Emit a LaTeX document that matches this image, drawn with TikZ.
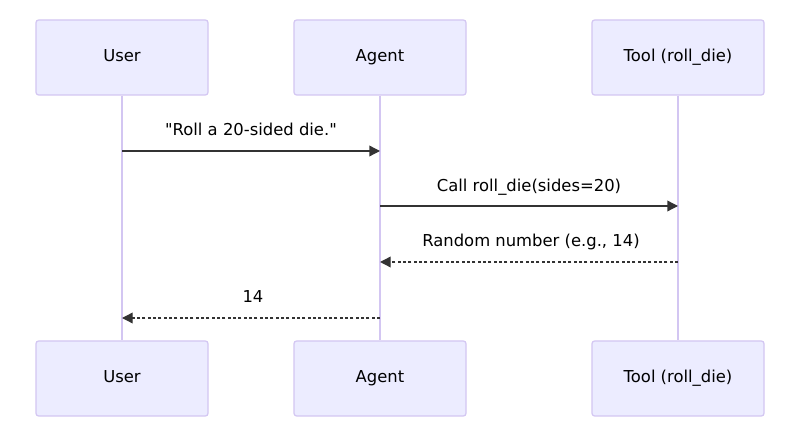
\documentclass[tikz,border=0pt]{standalone}
\usepackage{fontspec}
\setmainfont{DejaVu Sans}
\newfontfamily\qfont{DejaVu Sans}
\usetikzlibrary{arrows.meta}
\definecolor{actfill}{HTML}{ECECFF}
\definecolor{actline}{HTML}{D3C6F2}
\definecolor{msg}{HTML}{333333}
\tikzset{
  actor/.style={draw=actline, fill=actfill, line width=0.9pt, rounded corners=2pt, minimum width=129pt, minimum height=56.25pt, font=\fontsize{12.3}{14}\selectfont, inner sep=0pt, text height=9pt, text depth=2.5pt},
  life/.style={draw=actline, line width=1.2pt},
  msgline/.style={draw=msg, line width=1pt, -{Triangle[length=8pt,width=8pt]}},
  reply/.style={msgline, dash pattern=on 2.2pt off 1.8pt},
  lbl/.style={font=\fontsize{12.3}{14}\selectfont, text=black, text height=9pt, text depth=2.5pt}
}
\begin{document}
\begin{tikzpicture}[x=0.75pt,y=-0.75pt]
\useasboundingbox (0,0) rectangle (800,448);
\fill[white] (0,0) rectangle (800,448);
\node[actor] (ut) at (122,57.5) {User};
\node[actor] (at) at (380,57.5) {Agent};
\node[actor] (tt) at (678,57.5) {Tool (roll\_die)};
\node[actor] (ub) at (122,378.5) {User};
\node[actor] (ab) at (380,378.5) {Agent};
\node[actor] (tb) at (678,378.5) {Tool (roll\_die)};
\draw[life] (ut.south) -- (ub.north);
\draw[life] (at.south) -- (ab.north);
\draw[life] (tt.south) -- (tb.north);
\coordinate (m1a) at (122,151); \coordinate (m1b) at (380,151);
\coordinate (m2a) at (380,206); \coordinate (m2b) at (678,206);
\coordinate (m3a) at (678,262); \coordinate (m3b) at (380,262);
\coordinate (m4a) at (380,318); \coordinate (m4b) at (122,318);
\draw[msgline] (m1a) -- (m1b);
\draw[msgline] (m2a) -- (m2b);
\draw[reply] (m3a) -- (m3b);
\draw[reply] (m4a) -- (m4b);
\node[lbl] (l1) at (251,131) {{\qfont "Roll a 20-sided die."}};
\node[lbl] (l2) at (529,187) {Call roll\_die(sides=20)};
\node[lbl] (l3) at (531,242) {Random number (e.g., 14)};
\node[lbl] (l4) at (253,298) {14};
\end{tikzpicture}
\end{document}
